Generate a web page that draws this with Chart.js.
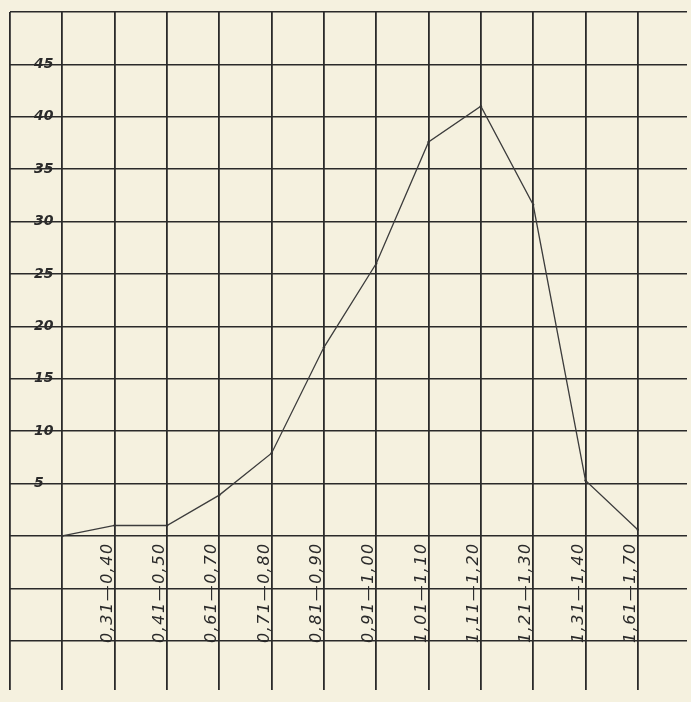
<!DOCTYPE html>
<html>
<head>
<meta charset="utf-8">
<script src="https://cdn.jsdelivr.net/npm/chart.js@4/dist/chart.umd.min.js"></script>
<style>
  html, body { margin: 0; padding: 0; background: #f5f1df; }
  #wrap { width: 691px; height: 702px; position: relative; }
</style>
</head>
<body>
<div id="wrap"><canvas id="c"></canvas></div>
<script>
// ---- data ----
const categories = ['', '0,31—0,40', '0,41—0,50', '0,61—0,70', '0,71—0,80', '0,81—0,90',
                    '0,91—1,00', '1,01—1,10', '1,11—1,20', '1,21—1,30', '1,31—1,40', '1,61—1,70'];
const values = [0, 1, 1, 3.9, 7.9, 18, 26, 37.6, 41, 31.6, 5.3, 0.6];
const yGridValues = [-10, -5, 0, 5, 10, 15, 20, 25, 30, 35, 40, 45, 50];
const yTickLabels = ['', '', '', '5', '10', '15', '20', '25', '30', '35', '40', '45', ''];
const xGridCount = 13; // vertical rulings of the graph paper

const points = values.map((v, i) => ({ x: i + 1, y: v }));

const labelPlugin = {
  id: 'handLabels',
  afterDatasetsDraw(chart) {
    const { ctx, scales } = chart;
    const xs = scales.x, ys = scales.y;
    ctx.save();
    ctx.fillStyle = '#2a2a2a';
    // x category labels, written upright along the rulings
    ctx.font = 'italic 16px "DejaVu Sans"';
    if ('letterSpacing' in ctx) ctx.letterSpacing = '1.5px';
    ctx.textAlign = 'right';
    ctx.textBaseline = 'bottom';
    categories.forEach((lab, i) => {
      if (!lab) return;
      const px = xs.getPixelForValue(i + 1);
      const py = ys.getPixelForValue(-0.6);
      ctx.save();
      ctx.translate(px + 1, py);
      ctx.rotate(-Math.PI / 2);
      ctx.fillText(lab, 0, 0);
      ctx.restore();
    });
    if ('letterSpacing' in ctx) ctx.letterSpacing = '0px';
    // y tick labels inside the first column
    ctx.font = 'italic bold 14px "DejaVu Sans"';
    ctx.textAlign = 'left';
    ctx.textBaseline = 'middle';
    yGridValues.forEach((v, k) => {
      const t = yTickLabels[k];
      if (!t) return;
      ctx.fillText(t, xs.getPixelForValue(0.46), ys.getPixelForValue(v));
    });
    ctx.restore();
  }
};

new Chart(document.getElementById('c'), {
  type: 'line',
  data: {
    datasets: [{
      data: points,
      borderColor: '#3c3c3c',
      borderWidth: 1.3,
      pointRadius: 1.2,
      pointBackgroundColor: '#333',
      pointBorderWidth: 0,
      tension: 0,
      fill: false
    }]
  },
  options: {
    responsive: true,
    maintainAspectRatio: false,
    animation: false,
    layout: { padding: { left: 10, top: 12, right: 4, bottom: 12 } },
    plugins: { legend: { display: false }, tooltip: { enabled: false } },
    scales: {
      x: {
        type: 'linear',
        min: 0,
        max: 12.94,
        afterBuildTicks: (s) => { s.ticks = Array.from({ length: xGridCount }, (_, i) => ({ value: i })); },
        ticks: { display: false },
        grid: { color: '#2a2a2a', lineWidth: 1.8, drawTicks: false, tickLength: 0 },
        border: { display: false }
      },
      y: {
        type: 'linear',
        min: -14.7,
        max: 50,
        afterBuildTicks: (s) => { s.ticks = yGridValues.map(v => ({ value: v })); },
        ticks: { display: false },
        grid: { color: '#2a2a2a', lineWidth: 1.5, drawTicks: false, tickLength: 0 },
        border: { display: false }
      }
    }
  },
  plugins: [labelPlugin]
});
</script>
</body>
</html>
